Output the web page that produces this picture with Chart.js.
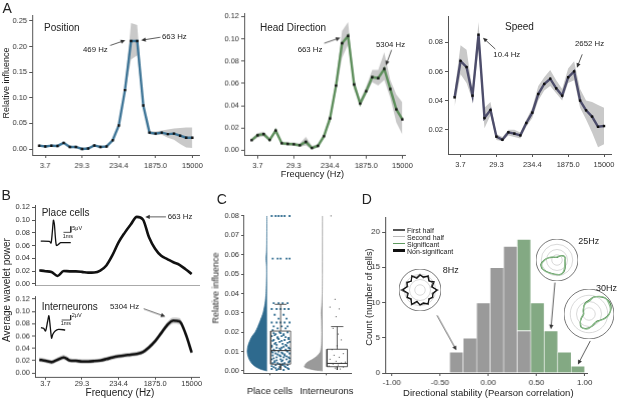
<!DOCTYPE html>
<html>
<head>
<meta charset="utf-8">
<title>Frequency influence figure</title>
<script src="https://cdn.jsdelivr.net/npm/chart.js"></script>
<style>
  html, body { margin: 0; padding: 0; background: #fff; }
  #fig { position: relative; width: 617px; height: 399px; overflow: hidden; font-family: "Liberation Sans", Arial, sans-serif; color: #222; }
  .box { position: absolute; }
  .t { position: absolute; white-space: nowrap; line-height: 1; }
  .lg { position: absolute; }
</style>
</head>
<body>
<div id="fig"></div>
<script>
// frequency bins (Hz), half-octave steps
const freqs = [2.59, 3.66, 5.18, 7.32, 10.36, 14.65, 20.72, 29.3, 41.43, 58.59, 82.86, 117.19, 165.73,
  234.38, 331.46, 468.75, 662.91, 937.5, 1325.83, 1875, 2651.65, 3750, 5303.3, 7500, 10606.6, 15000];
const freqTicks = [3.66, 29.3, 234.38, 1875, 15000];
const freqTickLabels = ['3.7', '29.3', '234.4', '1875.0', '15000'];

// A - relative influence (mean and shaded range)
const positionMean = [0.0065, 0.005, 0.0065, 0.006, 0.012, 0.004, 0.004, 0.000, 0.001, 0.007, 0.004, 0.005, 0.017,
  0.046, 0.115, 0.211, 0.211, 0.085, 0.032, 0.030, 0.032, 0.029, 0.030, 0.026, 0.022, 0.022];
const positionHi = [0.008, 0.0065, 0.008, 0.0075, 0.0135, 0.0055, 0.0055, 0.0015, 0.0025, 0.0085, 0.0055, 0.0065, 0.019,
  0.049, 0.12, 0.246, 0.242, 0.09, 0.035, 0.034, 0.036, 0.038, 0.04, 0.041, 0.042, 0.042];
const positionLo = [0.005, 0.0035, 0.005, 0.0045, 0.0105, 0.0025, 0.0025, -0.0015, -0.0005, 0.0055, 0.0025, 0.0035, 0.015,
  0.043, 0.11, 0.175, 0.183, 0.08, 0.029, 0.027, 0.028, 0.022, 0.018, 0.01, 0.003, 0.002];

const headMean = [0.009, 0.0135, 0.0145, 0.0093, 0.0177, 0.0063, 0.0057, 0.0054, 0.0045, 0.0075, 0.002, 0.004, 0.0126,
  0.0286, 0.058, 0.096, 0.1026, 0.059, 0.042, 0.053, 0.0656, 0.0647, 0.073, 0.055, 0.0367, 0.0277];
const headHi = [0.0105, 0.0155, 0.0165, 0.011, 0.019, 0.0078, 0.007, 0.0068, 0.006, 0.012, 0.004, 0.0055, 0.0145,
  0.032, 0.063, 0.107, 0.115, 0.063, 0.045, 0.057, 0.072, 0.072, 0.088, 0.063, 0.05, 0.043];
const headLo = [0.0075, 0.0115, 0.0125, 0.0078, 0.0162, 0.0048, 0.0044, 0.004, 0.003, 0.0045, 0.0005, 0.0025, 0.011,
  0.0255, 0.053, 0.083, 0.095, 0.055, 0.039, 0.05, 0.061, 0.058, 0.063, 0.047, 0.025, 0.014];

const speedMean = [0.0422, 0.0672, 0.063, 0.0434, 0.0853, 0.028, 0.0335, 0.0152, 0.0131, 0.0182, 0.0173, 0.0161, 0.0246,
  0.0317, 0.0445, 0.0514, 0.055, 0.0484, 0.0434, 0.056, 0.06, 0.04, 0.0333, 0.029, 0.022, 0.0225];
const speedHi = [0.047, 0.078, 0.075, 0.047, 0.094, 0.035, 0.039, 0.017, 0.015, 0.02, 0.02, 0.018, 0.027,
  0.035, 0.05, 0.056, 0.061, 0.054, 0.048, 0.062, 0.067, 0.048, 0.04, 0.039, 0.037, 0.035];
const speedLo = [0.036, 0.058, 0.052, 0.04, 0.075, 0.021, 0.03, 0.013, 0.012, 0.016, 0.015, 0.014, 0.022,
  0.028, 0.04, 0.047, 0.05, 0.045, 0.04, 0.052, 0.054, 0.035, 0.027, 0.018, 0.008, 0.01];

// B - average wavelet power
const placePower = [0.0214, 0.020, 0.0188, 0.0125, 0.0203, 0.0198, 0.0198, 0.019, 0.0177, 0.018, 0.021, 0.029, 0.045,
  0.065, 0.08, 0.093, 0.105, 0.101, 0.073, 0.055, 0.044, 0.039, 0.034, 0.030, 0.023, 0.0157];
const interPower = [0.0214, 0.0197, 0.0175, 0.0214, 0.0252, 0.0203, 0.0197, 0.0186, 0.0186, 0.0192, 0.0203, 0.0225, 0.025,
  0.027, 0.0285, 0.0296, 0.031, 0.034, 0.0416, 0.0515, 0.0647, 0.078, 0.085, 0.084, 0.0636, 0.033];
const interHi = [0.025, 0.023, 0.021, 0.025, 0.029, 0.024, 0.023, 0.022, 0.022, 0.0225, 0.0235, 0.026, 0.0285,
  0.0305, 0.032, 0.033, 0.0345, 0.0375, 0.0455, 0.0555, 0.069, 0.083, 0.09, 0.089, 0.0675, 0.036];
const interLo = [0.018, 0.0165, 0.014, 0.018, 0.0215, 0.017, 0.0165, 0.015, 0.015, 0.016, 0.017, 0.019, 0.0215,
  0.0235, 0.025, 0.026, 0.0275, 0.0305, 0.0375, 0.0475, 0.0605, 0.073, 0.08, 0.079, 0.06, 0.03];

// spike waveforms (ms, uV)
const placeWaveT = [0, 1.18, 1.41, 1.59, 1.73, 1.86, 2.0, 2.14, 2.41, 2.73, 4.09];
const placeWaveV = [0.55, 0.28, -1.1, 8.9, 18, 14.5, 3.3, -3.1, -2.2, -0.8, -0.8];
const interWaveT = [0, 0.3, 0.52, 0.74, 0.89, 1.04, 1.19, 1.33, 1.59, 1.96, 2.7];
const interWaveV = [0.53, 0.27, -0.8, 2.9, 5.3, 0.9, -3.7, -2.1, -0.8, -0.13, -0.4];

// C - relative influence distribution
const placeViolinY = [0, 0.0005, 0.001, 0.002, 0.003, 0.004, 0.006, 0.008, 0.010, 0.012, 0.014, 0.016, 0.018, 0.020,
  0.023, 0.026, 0.030, 0.035, 0.040, 0.045, 0.050, 0.054, 0.058, 0.062, 0.066, 0.072, 0.080];
const placeViolinD = [0, 0.2, 0.35, 0.55, 0.68, 0.78, 0.9, 0.97, 1.0, 0.98, 0.93, 0.85, 0.75, 0.6,
  0.46, 0.34, 0.2, 0.1, 0.05, 0.033, 0.02, 0.025, 0.05, 0.025, 0.015, 0.01, 0.008];
const interViolinY = [0, 0.0004, 0.0008, 0.0014, 0.002, 0.003, 0.004, 0.005, 0.006, 0.008, 0.010, 0.014, 0.020,
  0.026, 0.030, 0.034, 0.040, 0.050, 0.080];
const interViolinD = [0, 0.35, 0.6, 0.85, 1.0, 0.97, 0.9, 0.75, 0.55, 0.27, 0.12, 0.06, 0.05, 0.06, 0.08, 0.05, 0.02, 0.01, 0.008];
const placeBox = [0.0005, 0.0035, 0.0105, 0.0206, 0.0344]; // min, q1, median, q3, max
const interBox = [0.0005, 0.0022, 0.0039, 0.0112, 0.0229];
const placeVals = [0.080, 0.080, 0.080, 0.080, 0.080, 0.080, 0.058, 0.058, 0.058, 0.058, 0.058,
  0.035, 0.035, 0.035, 0.035, 0.032, 0.032, 0.032, 0.032, 0.032, 0.029, 0.029, 0.027, 0.027,
  0.025, 0.025, 0.025, 0.025, 0.025, 0.023, 0.023, 0.023, 0.022, 0.022,
  0.021, 0.020, 0.020, 0.019, 0.019, 0.018, 0.018, 0.017, 0.017, 0.016, 0.016, 0.015, 0.015, 0.014, 0.014, 0.013, 0.013,
  0.012, 0.012, 0.012, 0.011, 0.011, 0.011, 0.010, 0.010, 0.010, 0.009, 0.009, 0.009, 0.008, 0.008, 0.008,
  0.007, 0.007, 0.007, 0.006, 0.006, 0.006, 0.005, 0.005, 0.005, 0.004, 0.004, 0.004, 0.003, 0.003, 0.003,
  0.002, 0.002, 0.002, 0.001, 0.001, 0.001, 0.0005, 0.0005,
  0.0195, 0.0185, 0.0175, 0.0165, 0.0155, 0.0145, 0.0135, 0.0125, 0.0115, 0.0105, 0.0095, 0.0085, 0.0075, 0.0065,
  0.0055, 0.0045, 0.0035, 0.0025, 0.0015,
  0.0195, 0.0185, 0.0175, 0.0165, 0.0155, 0.0145, 0.0135, 0.0125, 0.0115, 0.0105, 0.0095, 0.0085, 0.0075, 0.0065,
  0.0055, 0.0045, 0.0035, 0.0025, 0.0015];
const placeJitter = [0.05, 0.25, 0.4, 0.55, 0.7, 0.95, 0.1, 0.35, 0.5, 0.8, 0.95,
  0.15, 0.4, 0.6, 0.85, 0.05, 0.3, 0.5, 0.7, 0.9, 0.2, 0.65, 0.4, 0.8,
  0.05, 0.3, 0.5, 0.7, 0.95, 0.15, 0.55, 0.85, 0.35, 0.75,
  0.1, 0.45, 0.85, 0.25, 0.65, 0.05, 0.55, 0.35, 0.9, 0.15, 0.7, 0.45, 0.95, 0.2, 0.6, 0.05, 0.8,
  0.3, 0.55, 0.9, 0.15, 0.5, 0.75, 0.05, 0.4, 0.85, 0.25, 0.6, 0.95, 0.1, 0.45, 0.7,
  0.3, 0.65, 0.9, 0.05, 0.5, 0.8, 0.2, 0.55, 0.95, 0.35, 0.7, 0.1, 0.25, 0.6, 0.85,
  0.15, 0.45, 0.75, 0.05, 0.4, 0.9, 0.3, 0.65,
  0.5, 0.2, 0.75, 0.4, 0.1, 0.85, 0.3, 0.65, 0.95, 0.2, 0.55, 0.35, 0.8, 0.15, 0.6, 0.9, 0.45, 0.7, 0.25,
  0.15, 0.65, 0.35, 0.9, 0.55, 0.25, 0.75, 0.05, 0.45, 0.8, 0.1, 0.7, 0.5, 0.95, 0.3, 0.2, 0.6, 0.05, 0.85];
const interVals = [0.080, 0.037, 0.033, 0.032, 0.028, 0.022, 0.019, 0.016, 0.013, 0.011, 0.009, 0.008, 0.007,
  0.006, 0.005, 0.0045, 0.004, 0.0035, 0.003, 0.0025, 0.002, 0.0015, 0.001];
const interJitter = [0.2, 0.4, 0.15, 0.6, 0.45, 0.3, 0.55, 0.7, 0.5, 0.25, 0.8, 0.35, 0.6, 0.15, 0.45, 0.9, 0.7,
  0.3, 0.55, 0.1, 0.8, 0.4, 0.65];

// D - directional stability histogram
const binCenters = [-0.33, -0.19, -0.05, 0.09, 0.23, 0.37, 0.51, 0.65, 0.79, 0.93];
const nonSigCounts = [3, 5, 10, 15, 18, 6, 0, 0, 0, 0];
const sigCounts = [0, 0, 0, 0, 0, 13, 10, 6, 3, 1];
const dirLabels = ['0', '15', '30', '45', '60', '75', '90', '105', '120', '135', '150', '165',
  '180', '195', '210', '225', '240', '255', '270', '285', '300', '315', '330', '345'];
const r8First = [0.75, 0.6, 0.8, 0.62, 0.7, 0.55, 0.85, 0.6, 0.72, 0.58, 0.8, 0.62, 0.7, 0.6, 0.82, 0.58, 0.72, 0.62, 0.9, 0.6, 0.75, 0.58, 0.8, 0.62];
const r8Second = [0.7, 0.65, 0.75, 0.6, 0.78, 0.6, 0.8, 0.65, 0.68, 0.62, 0.75, 0.66, 0.72, 0.55, 0.78, 0.62, 0.7, 0.58, 0.82, 0.64, 0.7, 0.6, 0.76, 0.58];
const r25First = [0.12, 0.15, 0.2, 0.3, 0.38, 0.4, 0.38, 0.4, 0.45, 0.55, 0.65, 0.7, 0.7, 0.68, 0.7, 0.75, 0.82, 0.8, 0.6, 0.4, 0.25, 0.18, 0.14, 0.12];
const r25Second = [0.15, 0.18, 0.22, 0.28, 0.35, 0.42, 0.4, 0.38, 0.42, 0.5, 0.62, 0.72, 0.68, 0.7, 0.72, 0.78, 0.8, 0.76, 0.58, 0.42, 0.28, 0.2, 0.16, 0.14];
const r30First = [0.55, 0.7, 0.8, 0.9, 0.95, 0.92, 0.8, 0.65, 0.5, 0.42, 0.45, 0.5, 0.55, 0.6, 0.62, 0.5, 0.35, 0.25, 0.22, 0.22, 0.25, 0.3, 0.4, 0.48];
const r30Second = [0.5, 0.68, 0.82, 0.92, 0.9, 0.88, 0.82, 0.68, 0.52, 0.45, 0.42, 0.48, 0.58, 0.62, 0.6, 0.48, 0.38, 0.28, 0.2, 0.24, 0.28, 0.32, 0.38, 0.45];

const BAND = '#c9c9c9';
const AXIS = '#555';
const PAD_T = 10, PAD_R = 14;
const fig = document.getElementById('fig');

Chart.defaults.font.family = '"Liberation Sans", Arial, sans-serif';
Chart.defaults.color = '#333';
Chart.defaults.animation = false;
Chart.defaults.events = [];
Chart.defaults.plugins.legend.display = false;
Chart.defaults.plugins.tooltip.enabled = false;

function makeBox(area, yW, xH) {
  const d = document.createElement('div');
  d.className = 'box';
  d.style.left = (area.l - yW) + 'px';
  d.style.top = (area.t - PAD_T) + 'px';
  d.style.width = (area.r - area.l + yW + PAD_R) + 'px';
  d.style.height = (area.b - area.t + PAD_T + xH) + 'px';
  const c = document.createElement('canvas');
  d.appendChild(c);
  fig.appendChild(d);
  return c;
}

function plainBox(l, t, w, h) {
  const d = document.createElement('div');
  d.className = 'box';
  d.style.left = l + 'px'; d.style.top = t + 'px';
  d.style.width = w + 'px'; d.style.height = h + 'px';
  const c = document.createElement('canvas');
  d.appendChild(c);
  fig.appendChild(d);
  return c;
}

function txt(s, x, y, size, opt = {}) {
  const e = document.createElement('div');
  e.className = 't';
  e.textContent = s;
  e.style.fontSize = size + 'px';
  e.style.left = x + 'px';
  e.style.top = y + 'px';
  const ax = opt.anchor === 'c' ? '-50%' : '0';
  e.style.transform = 'translate(' + ax + ', -50%)' + (opt.rot ? ' rotate(' + opt.rot + 'deg)' : '');
  fig.appendChild(e);
}

function drawArrow(ctx, x0, y0, x1, y1) {
  const a = Math.atan2(y1 - y0, x1 - x0), L = 4.5, W = 2.1;
  ctx.save();
  ctx.strokeStyle = '#333'; ctx.fillStyle = '#333'; ctx.lineWidth = 0.8;
  ctx.beginPath(); ctx.moveTo(x0, y0);
  ctx.lineTo(x1 - Math.cos(a) * L * 0.8, y1 - Math.sin(a) * L * 0.8); ctx.stroke();
  ctx.beginPath(); ctx.moveTo(x1, y1);
  ctx.lineTo(x1 - L * Math.cos(a) + W * Math.sin(a), y1 - L * Math.sin(a) - W * Math.cos(a));
  ctx.lineTo(x1 - L * Math.cos(a) - W * Math.sin(a), y1 - L * Math.sin(a) + W * Math.cos(a));
  ctx.closePath(); ctx.fill();
  ctx.restore();
}

function arrowPlugin(arrows) {
  return {
    id: 'arrows',
    afterDatasetsDraw(chart) {
      arrows.forEach(a => {
        const el = chart.getDatasetMeta(a.ds).data[a.i];
        const x1 = el.x + a.dx, y1 = el.y + a.dy;
        drawArrow(chart.ctx, x1 + a.tx, y1 + a.ty, x1, y1);
      });
    }
  };
}

function yAxis(min, max, ticks, yW, fmt, opt = {}) {
  return {
    type: 'linear', min, max,
    afterBuildTicks: s => { s.ticks = ticks.map(v => ({value: v})); },
    afterFit: s => { s.width = yW; },
    ticks: { callback: fmt, font: {size: opt.size || 7.5}, padding: opt.pad ?? 2, color: '#333' },
    grid: { drawOnChartArea: false, tickLength: opt.tl ?? 3, color: AXIS },
    border: { color: AXIS }
  };
}

function freqAxis(idxMin, idxMax, xH, pad, tl, show = true) {
  return {
    type: 'logarithmic',
    min: freqs[25] * Math.pow(2, (idxMin - 25) / 2),
    max: freqs[25] * Math.pow(2, (idxMax - 25) / 2),
    afterBuildTicks: s => { s.ticks = show ? freqTicks.map(v => ({value: v})) : []; },
    afterFit: s => { s.height = xH; },
    ticks: { callback: (v, i) => freqTickLabels[i], autoSkip: false, maxRotation: 0, font: {size: 7.5}, padding: pad },
    grid: { drawOnChartArea: false, tickLength: tl, color: AXIS },
    border: { color: show ? AXIS : '#aaa' }
  };
}

const f2 = v => Number(v).toFixed(2);
const asPts = arr => arr.map((v, i) => ({x: freqs[i], y: v}));
const layoutPad = {top: PAD_T, right: PAD_R, left: 0, bottom: 0};

function influencePanel(area, mean, hi, lo, color, yMin, yMax, yTicks, idxMin, idxMax, arrows) {
  const canvas = makeBox(area, 30, 20);
  new Chart(canvas, {
    type: 'line',
    data: { datasets: [
      { data: asPts(mean), borderColor: color, borderWidth: 2.4, pointRadius: 1.7, pointStyle: 'rect',
        pointBackgroundColor: '#111', pointBorderWidth: 0, order: 0 },
      { data: asPts(hi), borderColor: 'rgba(0,0,0,0)', borderWidth: 0, pointRadius: 0, fill: '+1', backgroundColor: BAND, order: 1 },
      { data: asPts(lo), borderColor: 'rgba(0,0,0,0)', borderWidth: 0, pointRadius: 0, fill: false, order: 2 }
    ]},
    options: {
      responsive: true, maintainAspectRatio: false, layout: {padding: layoutPad},
      scales: { x: freqAxis(idxMin, idxMax, 20, 3, 3), y: yAxis(yMin, yMax, yTicks, 30, f2) }
    },
    plugins: [arrowPlugin(arrows)]
  });
}

// ---------- A ----------
influencePanel({l: 32.3, r: 199, t: 15, b: 155}, positionMean, positionHi, positionLo, '#3e7597',
  -0.0117, 0.2617, [0, 0.05, 0.1, 0.15, 0.2, 0.25], -1.148, 26.2,
  [{ds: 0, i: 15, dx: -5.8, dy: -0.7, tx: -15, ty: 5.2}, {ds: 0, i: 16, dx: 4, dy: -0.7, tx: 19, ty: -3}]);
influencePanel({l: 244.3, r: 405, t: 13.3, b: 155}, headMean, headHi, headLo, '#5e8f5c',
  -0.0048, 0.1231, [0, 0.02, 0.04, 0.06, 0.08, 0.1, 0.12], -1.233, 25.55,
  [{ds: 0, i: 16, dx: -7.7, dy: 1.7, tx: -16, ty: 5.6}, {ds: 0, i: 22, dx: 1.6, dy: -3.5, tx: 5.7, ty: -15.3}]);
influencePanel({l: 447.7, r: 610.7, t: 16, b: 154}, speedMean, speedHi, speedLo, '#4d4d6b',
  0.0033, 0.0981, [0.02, 0.04, 0.06, 0.08], -1.104, 26.17,
  [{ds: 0, i: 4, dx: 4.5, dy: 3.1, tx: 12.3, ty: 11.3}, {ds: 0, i: 20, dx: 2.8, dy: -3.7, tx: 5.3, ty: -13.4}]);

// ---------- B ----------
const powerTicks = [0, 0.02, 0.04, 0.06, 0.08, 0.1, 0.12];
new Chart(makeBox({l: 35, r: 199, t: 205, b: 285}, 30, 10), {
  type: 'line',
  data: { datasets: [
    { data: asPts(placePower), borderColor: '#111', borderWidth: 2.6, pointRadius: 0, cubicInterpolationMode: 'monotone' }
  ]},
  options: {
    responsive: true, maintainAspectRatio: false, layout: {padding: layoutPad},
    scales: { x: freqAxis(-0.705, 26.2, 10, 0, 0, false), y: yAxis(-0.0016, 0.1236, powerTicks, 30, f2) }
  },
  plugins: [arrowPlugin([{ds: 0, i: 16, dx: 8.4, dy: 0, tx: 20.7, ty: 0}])]
});
new Chart(makeBox({l: 35, r: 199, t: 296, b: 376.7}, 30, 14), {
  type: 'line',
  data: { datasets: [
    { data: asPts(interPower), borderColor: '#111', borderWidth: 2.6, pointRadius: 0, cubicInterpolationMode: 'monotone', order: 0 },
    { data: asPts(interHi), borderColor: 'rgba(0,0,0,0)', borderWidth: 0, pointRadius: 0, fill: '+1', backgroundColor: BAND,
      cubicInterpolationMode: 'monotone', order: 1 },
    { data: asPts(interLo), borderColor: 'rgba(0,0,0,0)', borderWidth: 0, pointRadius: 0, fill: false,
      cubicInterpolationMode: 'monotone', order: 2 }
  ]},
  options: {
    responsive: true, maintainAspectRatio: false, layout: {padding: layoutPad},
    scales: { x: freqAxis(-0.705, 26.2, 14, 0, 2), y: yAxis(-0.0077, 0.1249, powerTicks, 30, f2) }
  },
  plugins: [arrowPlugin([{ds: 0, i: 22, dx: -8, dy: -4, tx: -21.7, ty: -7.7}])]
});

function waveform(l, t, w, h, T, V, xr, yr, bar) {
  const line = T.map((x, i) => ({x, y: V[i]}));
  new Chart(plainBox(l, t, w, h), {
    type: 'line',
    data: { datasets: [
      { data: line, borderColor: '#111', borderWidth: 1.3, pointRadius: 0, tension: 0.25 },
      { data: bar, borderColor: '#222', borderWidth: 0.8, pointRadius: 0, tension: 0 }
    ]},
    options: {
      responsive: true, maintainAspectRatio: false, layout: {padding: 0},
      scales: { x: {type: 'linear', display: false, min: xr[0], max: xr[1]},
                y: {type: 'linear', display: false, min: yr[0], max: yr[1]} }
    }
  });
}
// scale bars: 5 uV / 1 ms and 2 uV / 1 ms
waveform(40, 218, 32, 30, placeWaveT, placeWaveV, [-0.1, 4.26], [-5.25, 19.75],
  [{x: 4.1, y: 12.8}, {x: 4.1, y: 7.8}, {x: 3.1, y: 7.8}]);
waveform(40, 312, 32, 30, interWaveT, interWaveV, [-0.1, 3.46], [-5.2, 6.8],
  [{x: 3.31, y: 5.6}, {x: 3.31, y: 3.6}, {x: 2.31, y: 3.6}]);

// ---------- C ----------
// horizontal line chart (index axis = y) so the half violins fill sideways to their centre line
const PLACE_X = 0.221, INTER_X = 0.736, PLACE_W = 0.184, INTER_W = 0.169;
const PLACE_BOX = [0.255, 0.439], INTER_BOX = [0.776, 0.966];
const CAT_TICKS = [0.246, 0.773];
function violin(Y, D, cx, w, color) {
  return { data: Y.map((y, k) => ({x: cx - D[k] * w, y})), borderColor: color, borderWidth: 0.7,
    backgroundColor: color, fill: {value: cx}, pointRadius: 0, tension: 0.2, order: 5 };
}
function seg(pts, w = 0.8) {
  return { data: pts, borderColor: '#333', borderWidth: w, pointRadius: 0, fill: false, tension: 0, order: 1 };
}
function boxplot(b, x) {
  const [x0, x1] = x, xc = (x0 + x1) / 2, cw = (x1 - x0) * 0.3;
  return [
    seg([{x: x0, y: b[1]}, {x: x1, y: b[1]}, {x: x1, y: b[3]}, {x: x0, y: b[3]}, {x: x0, y: b[1]}]),
    seg([{x: x0, y: b[2]}, {x: x1, y: b[2]}], 1),
    seg([{x: xc, y: b[3]}, {x: xc, y: b[4]}]),
    seg([{x: xc - cw, y: b[4]}, {x: xc + cw, y: b[4]}]),
    seg([{x: xc, y: b[1]}, {x: xc, y: b[0]}])
  ];
}
function dots(vals, jit, x, color, r) {
  return { data: vals.map((v, k) => ({x: x[0] + jit[k] * (x[1] - x[0]), y: v})), showLine: false,
    pointRadius: r, pointStyle: 'rect', pointBackgroundColor: color, pointBorderWidth: 0, order: 3 };
}
new Chart(makeBox({l: 243.3, r: 352, t: 215, b: 373.3}, 30, 30), {
  type: 'line',
  data: { datasets: [
    violin(placeViolinY, placeViolinD, PLACE_X, PLACE_W, '#2e6a8e'),
    violin(interViolinY, interViolinD, INTER_X, INTER_W, '#9a9a9a'),
    dots(placeVals, placeJitter, PLACE_BOX, '#2e6a8e', 1.3),
    dots(interVals, interJitter, INTER_BOX, '#8a8a8a', 0.9),
    ...boxplot(placeBox, PLACE_BOX),
    ...boxplot(interBox, INTER_BOX)
  ]},
  options: {
    indexAxis: 'y',
    responsive: true, maintainAspectRatio: false, layout: {padding: layoutPad},
    scales: {
      x: { type: 'linear', min: 0, max: 1,
        afterBuildTicks: s => { s.ticks = CAT_TICKS.map(v => ({value: v})); },
        afterFit: s => { s.height = 30; },
        ticks: { callback: (v, i) => ['Place cells', 'Interneurons'][i], font: {size: 9.5}, padding: 10, color: '#222', maxRotation: 0 },
        grid: { drawOnChartArea: false, tickLength: 2, color: AXIS }, border: {color: AXIS} },
      y: yAxis(-0.0012, 0.0805, [0, 0.01, 0.02, 0.03, 0.04, 0.05, 0.06, 0.07, 0.08], 30, f2, {tl: 2, pad: 2})
    }
  }
});

// ---------- D ----------
const GRAY = '#9a9a9a', GREEN = '#83a983';
const barBorder = {top: 1, left: 0.6, right: 0.6, bottom: 0};
new Chart(makeBox({l: 385, r: 586.7, t: 216.7, b: 372.7}, 30, 20), {
  type: 'bar',
  data: { datasets: [
    { data: binCenters.map((x, i) => ({x, y: nonSigCounts[i] || null})), backgroundColor: GRAY, borderColor: '#fff',
      borderWidth: barBorder, barPercentage: 1, categoryPercentage: 1 },
    { data: binCenters.map((x, i) => ({x, y: sigCounts[i] || null})), backgroundColor: GREEN, borderColor: '#fff',
      borderWidth: barBorder, barPercentage: 1, categoryPercentage: 1 }
  ]},
  options: {
    responsive: true, maintainAspectRatio: false, layout: {padding: layoutPad},
    scales: {
      x: { type: 'linear', min: -1.0698, max: 1.0313, offset: false, stacked: true,
        afterBuildTicks: s => { s.ticks = [-1, -0.5, 0, 0.5, 1].map(v => ({value: v})); },
        afterFit: s => { s.height = 20; },
        ticks: { callback: f2, font: {size: 8}, padding: 2, maxRotation: 0 },
        grid: { drawOnChartArea: false, offset: false, tickLength: 3, color: AXIS }, border: {color: AXIS} },
      y: Object.assign(yAxis(0, 22.13, [0, 5, 10, 15, 20], 30, v => v, {size: 8, pad: 2}), {stacked: true})
    }
  },
  plugins: [arrowPlugin([
    {ds: 0, i: 0, dx: 0, dy: -1.5, tx: -19.3, ty: -35},
    {ds: 1, i: 7, dx: 0, dy: -1.5, tx: 4, ty: -46.6},
    {ds: 1, i: 9, dx: 0, dy: -1.5, tx: 12.3, ty: -23.5}
  ])]
});

function polarInset(cx, cy, r, first, second, c1, c2, tension) {
  new Chart(plainBox(cx - r, cy - r, 2 * r, 2 * r), {
    type: 'radar',
    data: { labels: dirLabels, datasets: [
      { data: second, borderColor: c2, borderWidth: 1.1, pointRadius: 0, fill: false, tension },
      { data: first, borderColor: c1, borderWidth: 1.1, pointRadius: 0, fill: false, tension }
    ]},
    options: {
      responsive: true, maintainAspectRatio: false, layout: {padding: 0},
      scales: { r: { min: 0, max: 1, ticks: {display: false, stepSize: 0.25}, pointLabels: {display: false},
        angleLines: {display: false},
        grid: { circular: true, lineWidth: 0.8, color: c => (c.tick && c.tick.value === 1) ? '#555' : '#cfcfcf' } } }
    }
  });
}
polarInset(420, 290, 21, r8First, r8Second, '#555', '#111', 0);
polarInset(556.5, 260, 21, r25First, r25Second, '#4f8a4f', '#8fbf8f', 0.2);
polarInset(588.5, 313.7, 25, r30First, r30Second, '#4f8a4f', '#8fbf8f', 0.2);

// legend for D
[['First half', '#555', 2], ['Second half', '#bbb', 1.6], ['Significant', '#5f9a5f', 1.6], ['Non-significant', '#111', 2.4]]
  .forEach(([label, color, h], k) => {
    const y = 229.5 + k * 7;
    const ln = document.createElement('div');
    ln.className = 'lg';
    ln.style.left = '392.7px'; ln.style.width = '12.3px';
    ln.style.top = (y - h / 2) + 'px'; ln.style.height = h + 'px';
    ln.style.background = color;
    fig.appendChild(ln);
    txt(label, 407, y, 7);
  });

// ---------- text ----------
txt('A', 2.5, 8, 14);
txt('Position', 44, 27.5, 10);
txt('469 Hz', 83, 50, 7.8);
txt('663 Hz', 162, 36.5, 7.8);
txt('Relative influence', 5.5, 83, 9, {anchor: 'c', rot: -90});
txt('Head Direction', 260, 27.7, 10);
txt('663 Hz', 297.7, 50, 7.8);
txt('5304 Hz', 376, 45, 7.8);
txt('Frequency (Hz)', 312.5, 175, 9.2, {anchor: 'c'});
txt('Speed', 505, 27.3, 10);
txt('10.4 Hz', 493.3, 55, 7.8);
txt('2652 Hz', 575, 44.3, 7.8);

txt('B', 1.5, 195, 14);
txt('Place cells', 41.7, 213.3, 10);
txt('663 Hz', 167.7, 217, 7.8);
txt('Interneurons', 41.7, 306.7, 10);
txt('5304 Hz', 110, 306.7, 7.8);
txt('5μV', 72.3, 229.3, 5.5);
txt('1ms', 62.7, 237.3, 5.5);
txt('2μV', 71.7, 316, 5.5);
txt('1ms', 60.7, 324.3, 5.5);
txt('Average wavelet power', 7, 290, 10, {anchor: 'c', rot: -90});
txt('Frequency (Hz)', 120, 392.5, 10, {anchor: 'c'});

txt('C', 216.7, 198.7, 14);
txt('Relative influence', 216.3, 288.3, 9, {anchor: 'c', rot: -90});

txt('D', 361.7, 199, 14);
txt('Count (number of cells)', 369, 296.7, 9.4, {anchor: 'c', rot: -90});
txt('Directional stability (Pearson correlation)', 488.3, 393, 9.5, {anchor: 'c'});
txt('8Hz', 442.7, 270, 9);
txt('25Hz', 578.3, 240.7, 9);
txt('30Hz', 596, 287.7, 9);
</script>
</body>
</html>
